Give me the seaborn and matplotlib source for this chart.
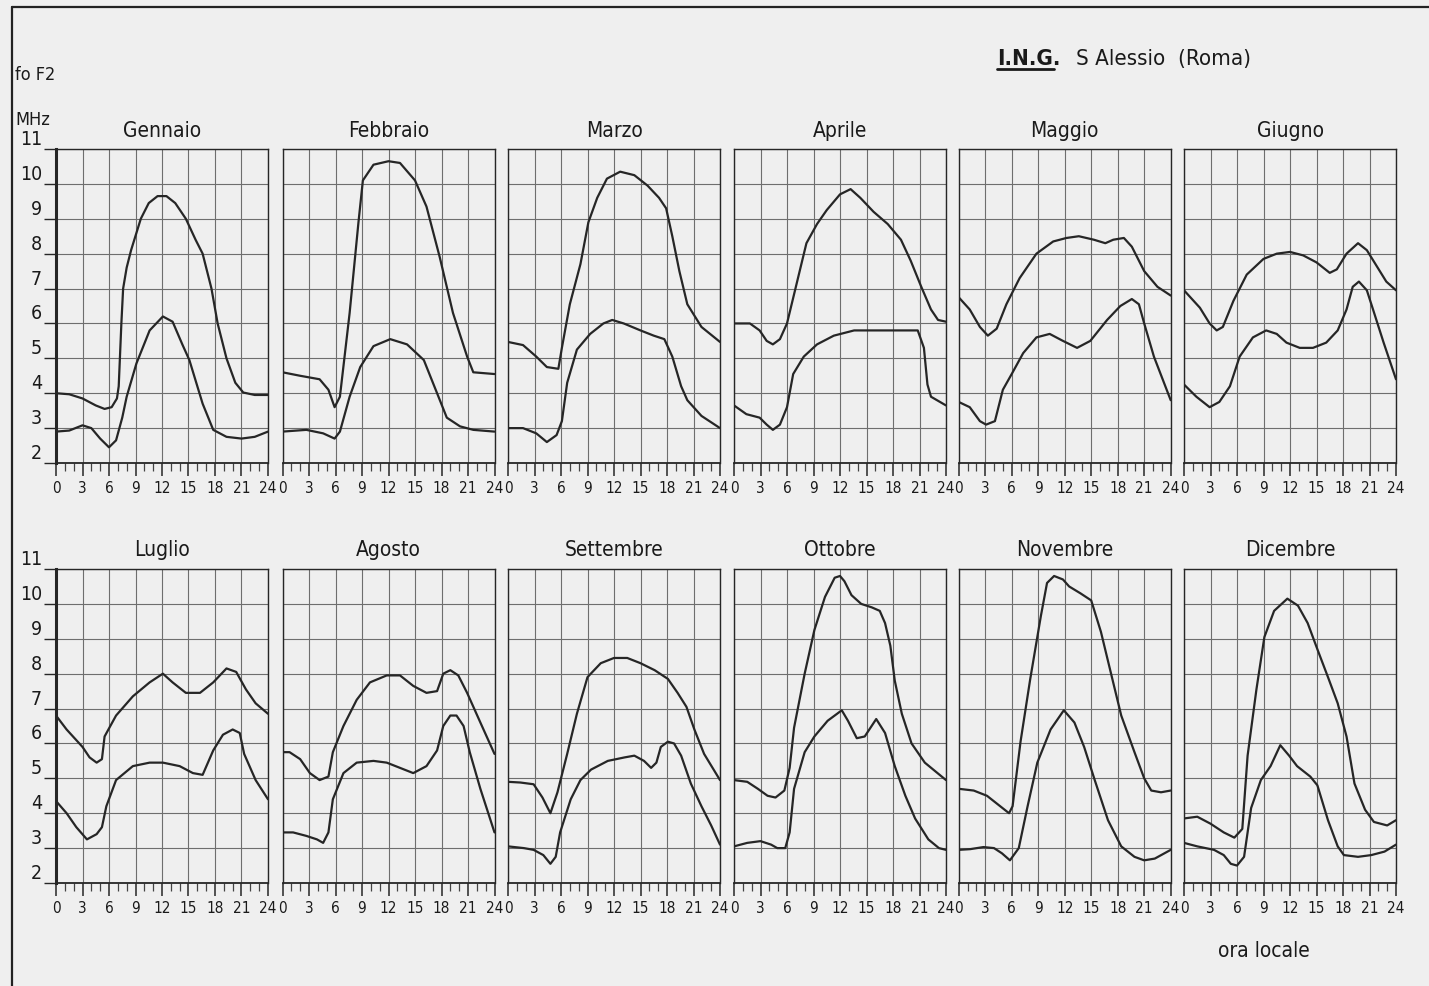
import numpy as np
import pandas as pd
import matplotlib
matplotlib.use("Agg")
import matplotlib.pyplot as plt
import seaborn as sns
from matplotlib.lines import Line2D

MONTHS = ["Gennaio", "Febbraio", "Marzo", "Aprile", "Maggio", "Giugno",
          "Luglio", "Agosto", "Settembre", "Ottobre", "Novembre", "Dicembre"]
HOUR_TICKS = [0, 3, 6, 9, 12, 15, 18, 21, 24]
MHZ_TICKS = [2, 3, 4, 5, 6, 7, 8, 9, 10, 11]

GEN_HI_H = [0, 1.5, 3, 4.5, 5.5, 6.3, 6.9, 7.1, 7.4, 7.6, 8.0, 8.5, 9.6, 10.5, 11.5, 12.5, 13.5, 14.7, 15.8, 16.6, 17.6, 18.3, 19.3, 20.3, 21.2, 22.5, 24]
GEN_HI_V = [4.0, 3.97, 3.85, 3.65, 3.55, 3.6, 3.85, 4.2, 6.0, 7.0, 7.6, 8.1, 9.0, 9.45, 9.65, 9.65, 9.45, 9.0, 8.4, 8.0, 7.0, 6.0, 5.0, 4.3, 4.02, 3.95, 3.95]
GEN_LO_H = [0, 1.5, 3, 4, 5, 6, 6.8, 7.5, 8, 9.1, 10.6, 12.1, 13.2, 14.3, 15.1, 16.6, 17.8, 19.3, 21, 22.5, 24]
GEN_LO_V = [2.9, 2.93, 3.08, 3.0, 2.7, 2.45, 2.65, 3.3, 3.9, 4.85, 5.8, 6.2, 6.05, 5.4, 4.95, 3.7, 2.95, 2.75, 2.7, 2.75, 2.9]

FEB_HI_H = [0, 2, 4.2, 5.2, 5.9, 6.5, 7.6, 8.6, 9.1, 10.3, 12, 13.3, 15, 16.3, 17.8, 19.3, 20.9, 21.6, 24]
FEB_HI_V = [4.6, 4.5, 4.4, 4.1, 3.6, 3.9, 6.3, 8.9, 10.1, 10.55, 10.65, 10.6, 10.1, 9.35, 7.9, 6.3, 5.05, 4.6, 4.55]
FEB_LO_H = [0, 2.7, 4.6, 5.9, 6.5, 7.6, 8.8, 10.3, 12.2, 14.1, 16, 17.5, 18.6, 20.1, 21.6, 24]
FEB_LO_V = [2.9, 2.95, 2.85, 2.7, 2.9, 3.9, 4.75, 5.35, 5.55, 5.4, 4.95, 4.0, 3.3, 3.05, 2.95, 2.9]

MAR_HI_H = [0, 1.7, 3.2, 4.4, 5.7, 6.1, 7, 8.2, 9.1, 10.1, 11.2, 12.7, 14.3, 15.8, 17.1, 17.9, 18.6, 19.4, 20.3, 21.9, 24]
MAR_HI_V = [5.47, 5.38, 5.05, 4.75, 4.7, 5.3, 6.55, 7.7, 8.9, 9.6, 10.15, 10.35, 10.25, 9.95, 9.6, 9.3, 8.5, 7.5, 6.55, 5.9, 5.47]
MAR_LO_H = [0, 1.7, 3.2, 4.4, 5.5, 6.1, 6.7, 7.8, 9.3, 10.8, 11.8, 13.1, 15, 16.5, 17.7, 18.6, 19.6, 20.3, 21.9, 24]
MAR_LO_V = [3.0, 3.0, 2.85, 2.6, 2.8, 3.2, 4.3, 5.25, 5.7, 6.0, 6.1, 6.0, 5.8, 5.65, 5.55, 5.05, 4.2, 3.8, 3.35, 3.0]

APR_HI_H = [0, 1.8, 2.9, 3.7, 4.4, 5.2, 6, 7.1, 8.2, 9.4, 10.5, 12, 13.2, 14.3, 15.8, 17.4, 18.9, 20, 21.2, 22.3, 23.1, 24]
APR_HI_V = [6.0, 6.0, 5.8, 5.5, 5.4, 5.55, 6.0, 7.15, 8.3, 8.85, 9.25, 9.7, 9.85, 9.6, 9.2, 8.85, 8.4, 7.8, 7.05, 6.4, 6.1, 6.05]
APR_LO_H = [0, 1.4, 2.9, 3.7, 4.4, 5.2, 6, 6.7, 7.9, 9.4, 11.3, 13.6, 15.8, 18.1, 20.8, 21.5, 21.9, 22.3, 24]
APR_LO_V = [3.65, 3.4, 3.3, 3.1, 2.95, 3.1, 3.6, 4.55, 5.05, 5.4, 5.65, 5.8, 5.8, 5.8, 5.8, 5.3, 4.25, 3.9, 3.65]

MAG_HI_H = [0, 1.25, 2.4, 3.3, 4.3, 5.4, 6.9, 8.8, 10.7, 12.2, 13.6, 15.3, 16.6, 17.5, 18.7, 19.6, 21, 22.5, 24]
MAG_HI_V = [6.75, 6.4, 5.9, 5.65, 5.85, 6.55, 7.3, 8.0, 8.35, 8.45, 8.5, 8.4, 8.3, 8.4, 8.45, 8.2, 7.5, 7.05, 6.8]
MAG_LO_H = [0, 1.25, 2.4, 3.1, 4.1, 5, 6, 7.3, 8.8, 10.3, 11.8, 13.4, 14.9, 16.8, 18.3, 19.6, 20.4, 21, 22.1, 24]
MAG_LO_V = [3.75, 3.6, 3.2, 3.1, 3.2, 4.1, 4.55, 5.15, 5.6, 5.7, 5.5, 5.3, 5.5, 6.1, 6.5, 6.7, 6.55, 6.0, 5.05, 3.8]

GIU_HI_H = [0, 1.8, 2.9, 3.7, 4.4, 5.6, 7.1, 9, 10.5, 12, 13.5, 15, 16.5, 17.3, 18.4, 19.7, 20.7, 21.8, 22.9, 24]
GIU_HI_V = [6.95, 6.45, 6.0, 5.8, 5.9, 6.65, 7.4, 7.85, 8.0, 8.05, 7.95, 7.75, 7.45, 7.55, 8.0, 8.3, 8.1, 7.65, 7.2, 6.95]
GIU_LO_H = [0, 1.4, 2.9, 4, 5.2, 6.3, 7.8, 9.3, 10.5, 11.6, 13.1, 14.6, 16.1, 17.4, 18.4, 19.1, 19.8, 20.7, 21.4, 22.6, 24]
GIU_LO_V = [4.25, 3.9, 3.6, 3.75, 4.2, 5.05, 5.6, 5.8, 5.7, 5.45, 5.3, 5.3, 5.45, 5.8, 6.4, 7.05, 7.2, 6.95, 6.4, 5.45, 4.4]

LUG_HI_H = [0, 1.2, 3, 3.8, 4.6, 5.2, 5.5, 6.8, 8.7, 10.6, 12.1, 13.2, 14.7, 16.3, 17.8, 19.3, 20.4, 21.5, 22.6, 24]
LUG_HI_V = [6.8, 6.4, 5.9, 5.6, 5.45, 5.55, 6.2, 6.8, 7.35, 7.75, 8.0, 7.75, 7.45, 7.45, 7.75, 8.15, 8.05, 7.55, 7.15, 6.85]
LUG_LO_H = [0, 1.2, 2.3, 3.5, 4.6, 5.2, 5.7, 6.8, 8.7, 10.6, 12.1, 14, 15.5, 16.6, 17.8, 18.9, 20, 20.8, 21.3, 22.6, 24]
LUG_LO_V = [4.35, 4.0, 3.6, 3.25, 3.4, 3.6, 4.2, 4.95, 5.35, 5.45, 5.45, 5.35, 5.15, 5.1, 5.8, 6.25, 6.4, 6.3, 5.7, 4.95, 4.4]

AGO_HI_H = [0, 0.8, 2, 3.1, 4.2, 5.2, 5.7, 6.9, 8.4, 9.9, 11.8, 13.3, 14.8, 16.3, 17.5, 18.2, 19, 19.9, 20.9, 22.4, 24]
AGO_HI_V = [5.75, 5.75, 5.55, 5.15, 4.95, 5.05, 5.75, 6.5, 7.25, 7.75, 7.95, 7.95, 7.65, 7.45, 7.5, 8.0, 8.1, 7.95, 7.45, 6.6, 5.7]
AGO_LO_H = [0, 1.2, 2.7, 3.9, 4.6, 5.2, 5.7, 6.9, 8.4, 10.3, 11.8, 13.3, 14.8, 16.3, 17.5, 18.2, 19, 19.7, 20.5, 21.2, 22.4, 24]
AGO_LO_V = [3.45, 3.45, 3.35, 3.25, 3.15, 3.45, 4.4, 5.15, 5.45, 5.5, 5.45, 5.3, 5.15, 5.35, 5.8, 6.5, 6.8, 6.8, 6.5, 5.75, 4.7, 3.45]

SET_HI_H = [0, 1.4, 2.9, 3.9, 4.8, 5.6, 6.7, 7.8, 9, 10.5, 12, 13.5, 15, 16.6, 18.1, 19.2, 20.2, 21.1, 22.2, 24]
SET_HI_V = [4.9, 4.88, 4.83, 4.45, 4.0, 4.6, 5.7, 6.85, 7.9, 8.3, 8.45, 8.45, 8.3, 8.1, 7.85, 7.45, 7.05, 6.4, 5.7, 4.95]
SET_LO_H = [0, 1.8, 2.9, 4, 4.8, 5.4, 5.9, 7.1, 8.2, 9.4, 11.3, 13.2, 14.3, 15.4, 16.2, 16.8, 17.3, 18.1, 18.8, 19.6, 20.7, 21.9, 23, 24]
SET_LO_V = [3.05, 3.0, 2.95, 2.8, 2.55, 2.75, 3.45, 4.4, 4.95, 5.25, 5.5, 5.6, 5.65, 5.5, 5.3, 5.45, 5.9, 6.05, 6.0, 5.65, 4.85, 4.2, 3.65, 3.1]

OTT_HI_H = [0, 1.5, 2.7, 3.8, 4.7, 5.7, 6.3, 6.8, 8, 9.1, 10.3, 11.4, 12, 12.5, 13.3, 14.4, 15.6, 16.5, 17.1, 17.7, 18.2, 19, 20.1, 21.6, 24]
OTT_HI_V = [4.95, 4.9, 4.7, 4.5, 4.45, 4.65, 5.3, 6.45, 8.0, 9.25, 10.2, 10.75, 10.8, 10.65, 10.25, 10.0, 9.9, 9.8, 9.45, 8.8, 7.8, 6.85, 6.0, 5.45, 4.95]
OTT_LO_H = [0, 1.5, 3, 4.2, 4.9, 5.8, 6.3, 6.8, 8, 9.1, 10.6, 12.2, 12.9, 13.9, 14.8, 16.1, 17.1, 18.2, 19.4, 20.5, 22, 23.2, 24]
OTT_LO_V = [3.05, 3.15, 3.2, 3.1, 3.0, 3.0, 3.45, 4.7, 5.75, 6.2, 6.65, 6.95, 6.65, 6.15, 6.2, 6.7, 6.3, 5.35, 4.5, 3.85, 3.25, 3.0, 2.95]

NOV_HI_H = [0, 1.7, 3.2, 4.7, 5.7, 6.1, 7, 8.1, 9.3, 10, 10.8, 11.8, 12.5, 13.8, 15, 16.1, 17.2, 18.4, 19.9, 21, 21.8, 22.9, 24]
NOV_HI_V = [4.7, 4.65, 4.5, 4.2, 4.0, 4.2, 6.05, 7.85, 9.65, 10.6, 10.8, 10.7, 10.5, 10.3, 10.1, 9.2, 8.05, 6.8, 5.75, 5.0, 4.65, 4.6, 4.65]
NOV_LO_H = [0, 1.3, 2.8, 4, 4.9, 5.8, 6.8, 7.8, 8.9, 10.4, 11.9, 13.1, 14.2, 15.4, 16.9, 18.4, 19.9, 21, 22.2, 24]
NOV_LO_V = [2.95, 2.97, 3.03, 3.0, 2.85, 2.65, 3.0, 4.2, 5.45, 6.4, 6.95, 6.6, 5.9, 4.95, 3.8, 3.05, 2.75, 2.65, 2.7, 2.95]

DIC_HI_H = [0, 1.5, 3, 4.5, 5.7, 6.6, 7.2, 8.2, 9.1, 10.2, 11.7, 12.9, 14, 15.1, 16.3, 17.4, 18.4, 19.3, 20.5, 21.5, 23, 24]
DIC_HI_V = [3.85, 3.9, 3.7, 3.45, 3.3, 3.55, 5.65, 7.55, 9.05, 9.8, 10.15, 9.95, 9.45, 8.7, 7.9, 7.15, 6.2, 4.85, 4.1, 3.75, 3.65, 3.8]
DIC_LO_H = [0, 1.5, 3.4, 4.5, 5.3, 6, 6.8, 7.6, 8.7, 9.8, 10.9, 11.9, 12.8, 14.3, 15.1, 16.3, 17.4, 18.1, 19.7, 21.2, 22.7, 24]
DIC_LO_V = [3.15, 3.05, 2.95, 2.8, 2.55, 2.5, 2.75, 4.15, 4.95, 5.35, 5.95, 5.65, 5.35, 5.05, 4.8, 3.8, 3.05, 2.8, 2.75, 2.8, 2.9, 3.1]

SERIES = [
    (GEN_HI_H, GEN_HI_V, GEN_LO_H, GEN_LO_V), (FEB_HI_H, FEB_HI_V, FEB_LO_H, FEB_LO_V),
    (MAR_HI_H, MAR_HI_V, MAR_LO_H, MAR_LO_V), (APR_HI_H, APR_HI_V, APR_LO_H, APR_LO_V),
    (MAG_HI_H, MAG_HI_V, MAG_LO_H, MAG_LO_V), (GIU_HI_H, GIU_HI_V, GIU_LO_H, GIU_LO_V),
    (LUG_HI_H, LUG_HI_V, LUG_LO_H, LUG_LO_V), (AGO_HI_H, AGO_HI_V, AGO_LO_H, AGO_LO_V),
    (SET_HI_H, SET_HI_V, SET_LO_H, SET_LO_V), (OTT_HI_H, OTT_HI_V, OTT_LO_H, OTT_LO_V),
    (NOV_HI_H, NOV_HI_V, NOV_LO_H, NOV_LO_V), (DIC_HI_H, DIC_HI_V, DIC_LO_H, DIC_LO_V),
]

rows = []
for month, (hh, hv, lh, lv) in zip(MONTHS, SERIES):
    for h, v in zip(hh, hv):
        rows.append((month, "alto", h, v))
    for h, v in zip(lh, lv):
        rows.append((month, "basso", h, v))
df = pd.DataFrame(rows, columns=["mese", "curva", "ora", "MHz"])

BG = "#efefef"
INK = "#262626"
GRID = "#6e6e6e"
TXT = "#1a1a1a"

sns.set_theme(style="white")
plt.rcParams["font.family"] = ["DejaVu Sans"]
plt.rcParams["font.stretch"] = "condensed"
plt.rcParams["axes.facecolor"] = BG
plt.rcParams["figure.facecolor"] = BG

W, H = 1429, 986
fig = plt.figure(figsize=(W / 100, H / 100), dpi=100)

LEFTS = [56, 282.5, 508, 734, 958.7, 1184]
PW = 212
ROW_TOP = [149, 569]
PH = 314

for i, month in enumerate(MONTHS):
    r, c = divmod(i, 6)
    left = LEFTS[c]
    top = ROW_TOP[r]
    ax = fig.add_axes([left / W, 1 - (top + PH) / H, PW / W, PH / H])
    sub = df[df["mese"] == month]
    sns.lineplot(data=sub, x="ora", y="MHz", hue="curva", units="curva",
                 estimator=None, sort=False, palette={"alto": INK, "basso": INK},
                 legend=False, linewidth=1.6, ax=ax)
    for ln in ax.get_lines():
        ln.set_solid_joinstyle("round")
        ln.set_solid_capstyle("round")
        ln.set_zorder(3)
    ax.set_xlim(0, 24)
    ax.set_ylim(2, 11)
    ax.set_xticks(HOUR_TICKS)
    ax.set_xticks(range(0, 25), minor=True)
    ax.set_xticklabels([str(t) for t in HOUR_TICKS], fontsize=11)
    ax.set_yticks(MHZ_TICKS)
    ax.set_xlabel("")
    ax.set_ylabel("")
    ax.grid(True, which="major", color=GRID, linewidth=0.8)
    ax.tick_params(axis="x", which="major", direction="out", length=9, width=1.1,
                   color=INK, pad=4, labelcolor=TXT, bottom=True)
    ax.tick_params(axis="x", which="minor", direction="out", length=6, width=0.9,
                   color="#444444", bottom=True)
    if c == 0:
        ax.set_yticklabels([str(t) for t in MHZ_TICKS], fontsize=14)
        ax.tick_params(axis="y", direction="out", length=9, width=1, color=INK,
                       pad=1, labelcolor=TXT, left=True)
        for lab in ax.get_yticklabels():
            lab.set_verticalalignment("bottom")
    else:
        ax.set_yticklabels([])
        ax.tick_params(axis="y", length=0)
    for s in ax.spines.values():
        s.set_color(INK)
        s.set_linewidth(1.0)
    ax.spines["bottom"].set_linewidth(1.3)
    if c == 0:
        ax.spines["left"].set_linewidth(2.2)
    ax.set_title(month, fontsize=15, pad=9, color=TXT)

fig.text(15 / W, 1 - 80 / H, "fo F2", fontsize=13, color=TXT, ha="left", va="baseline")
fig.text(15 / W, 1 - 125 / H, "MHz", fontsize=13, color=TXT, ha="left", va="baseline")
fig.text(997 / W, 1 - 65 / H, "I.N.G.", fontsize=16, fontweight="bold", color=TXT,
         ha="left", va="baseline")
fig.add_artist(Line2D([997 / W, 1054 / W], [1 - 69 / H, 1 - 69 / H], color=TXT, linewidth=2))
fig.text(1076 / W, 1 - 65 / H, "S Alessio  (Roma)", fontsize=16, color=TXT,
         ha="left", va="baseline")
fig.text(1264 / W, 1 - 957 / H, "ora locale", fontsize=15, color=TXT,
         ha="center", va="baseline")

fig.add_artist(Line2D([12 / W, 12 / W], [0, 1 - 7 / H], color="#222222", linewidth=1.6))
fig.add_artist(Line2D([12 / W, 1], [1 - 7 / H, 1 - 7 / H], color="#222222", linewidth=1.6))

fig.savefig("out.png", dpi=100, facecolor=BG)
